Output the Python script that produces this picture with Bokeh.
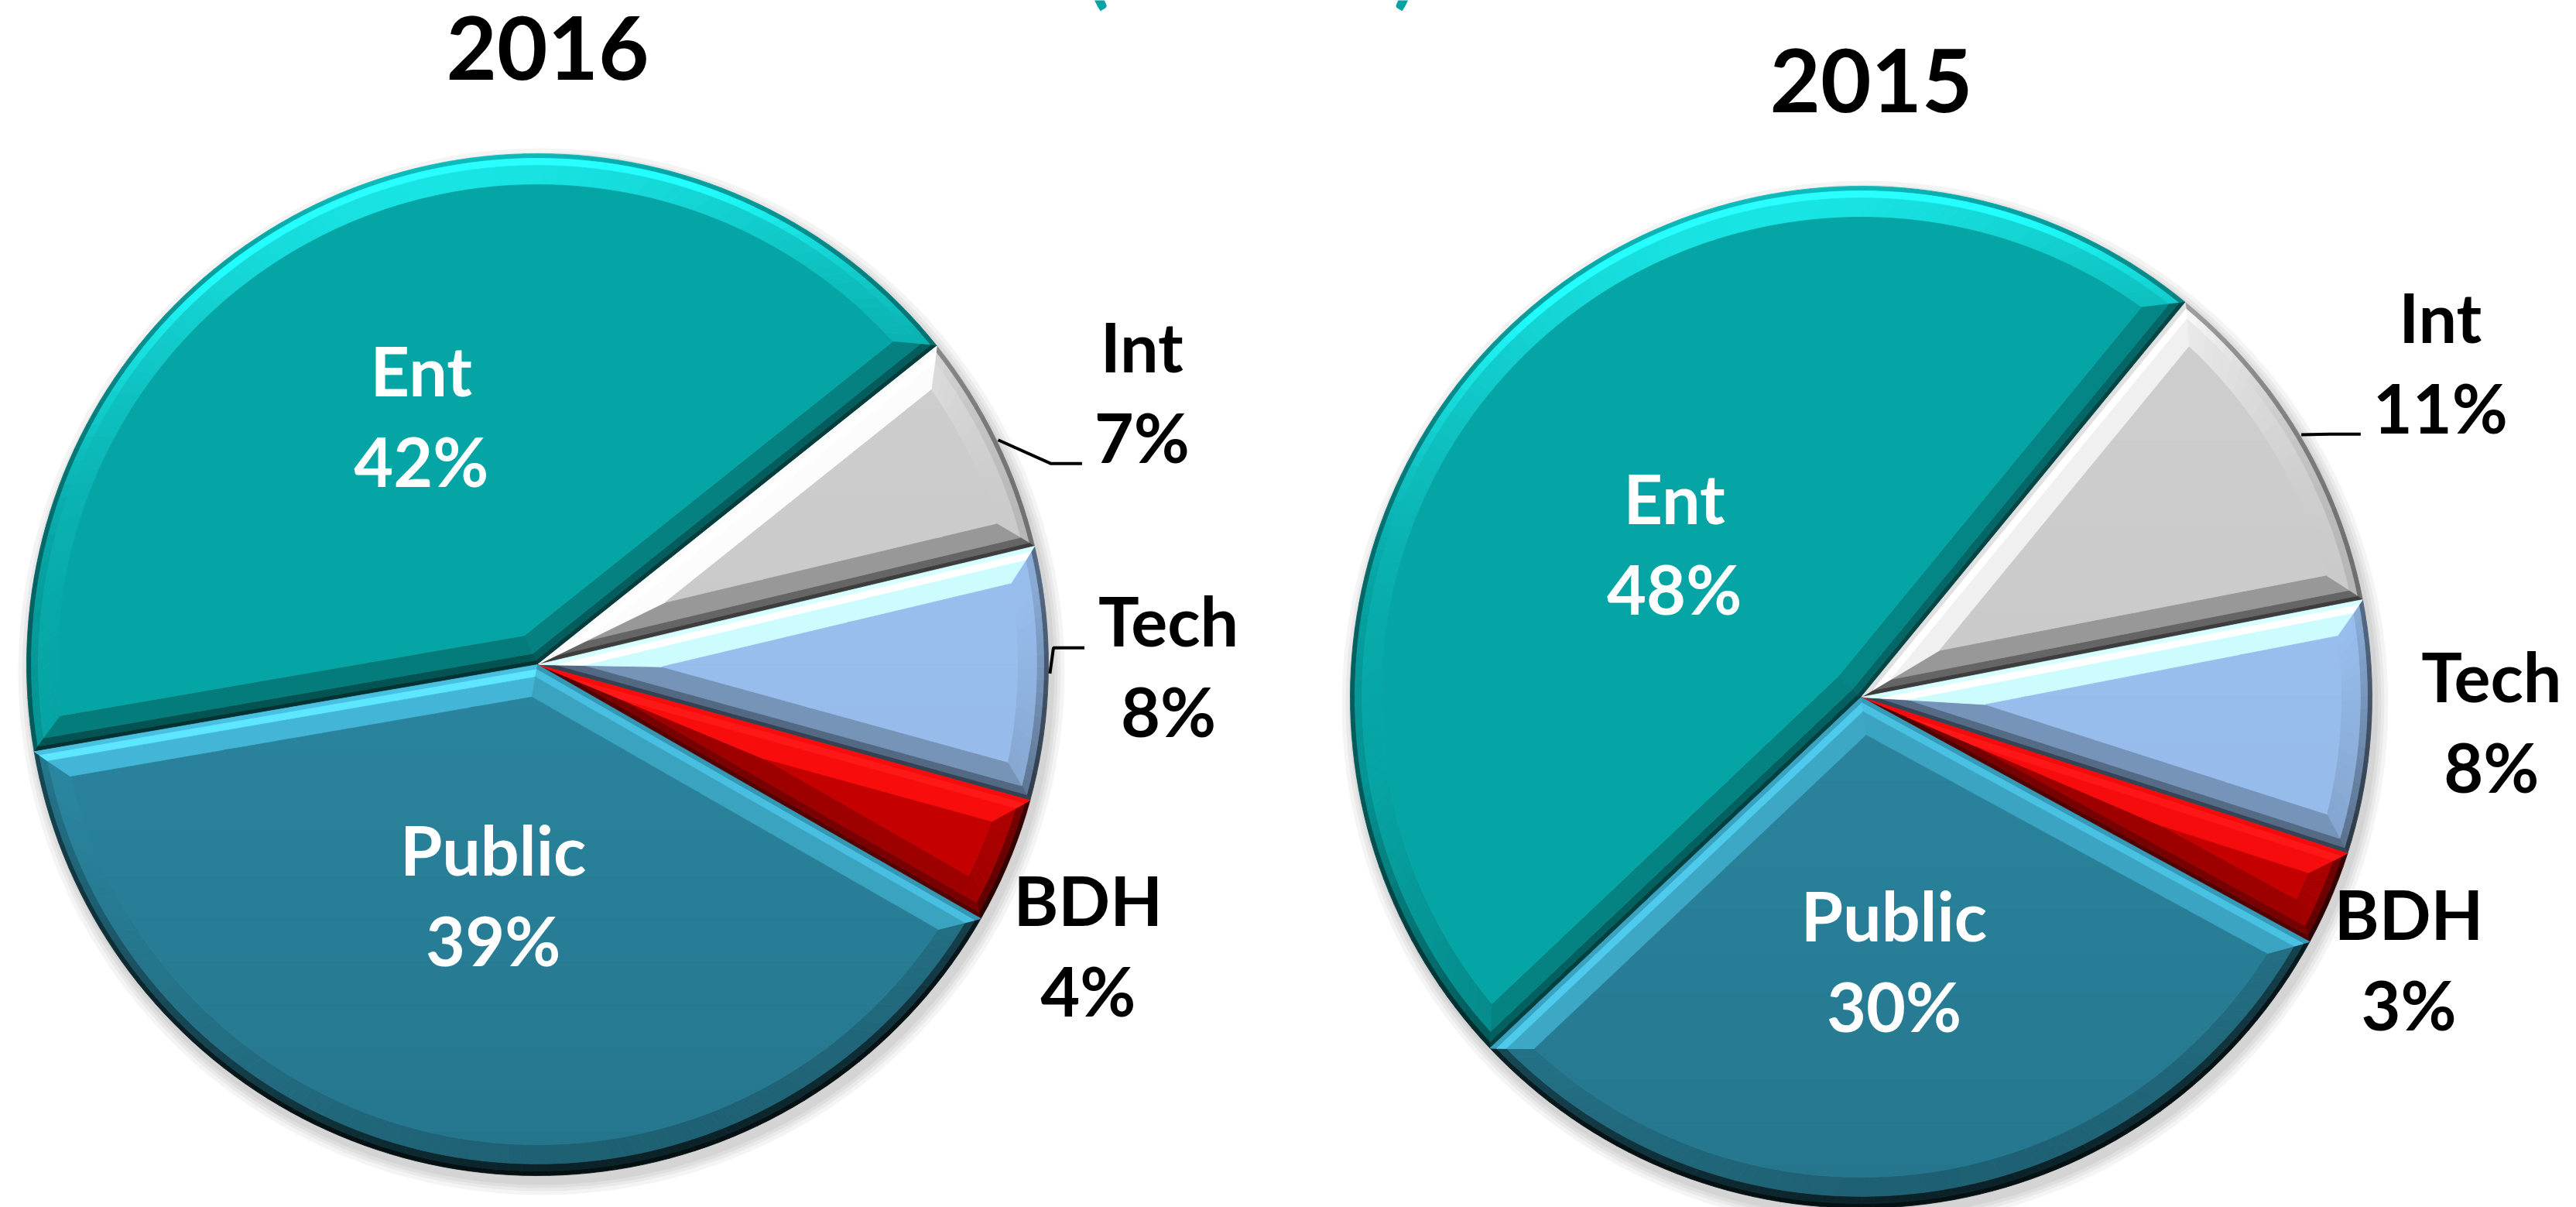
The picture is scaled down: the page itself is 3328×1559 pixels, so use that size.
import math
from bokeh.plotting import figure
from bokeh.models import ColumnDataSource, Range1d
from bokeh.core.properties import value
from bokeh.embed import file_html
from bokeh.resources import INLINE

# ---------------- data ----------------
categories = ["Ent", "Int", "Tech", "BDH", "Public"]
share_2016 = [42, 7, 8, 4, 39]
share_2015 = [48, 11, 8, 3, 30]
years = ["2016", "2015"]
year_shares = [share_2016, share_2015]
subtitle_parts = ["(", ")"]

# ---------------- style / layout ----------------
W, H = 3328, 1559
face_rgb = {"Ent": (6, 165, 165), "Int": (202, 202, 202), "Tech": (152, 190, 238),
            "BDH": (196, 0, 0), "Public": (42, 134, 160)}
face_gradient = {"Public": 0.22, "Tech": 0.08, "Int": 0.05}
pie_centers = [(694, 858), (2404, 900)]
R = 660
first_angle = [189.8, 223.4]          # math degrees where the first slice starts; slices run clockwise
inside_labels = {"Ent", "Public"}
label_geom = {"Ent": (0.5, 0.0), "Public": (0.5, 0.0), "Int": (1.3, -1.5),
              "Tech": (1.235, 1.0), "BDH": (1.2, -3.5)}
label_nudge = {(0, "Ent"): (-15, -17), (0, "Public"): (0, -24), (0, "BDH"): (0, 17),
               (0, "Int"): (0, 6), (0, "Tech"): (0, 5),
               (1, "Ent"): (0, 30), (1, "Public"): (0, 16), (1, "Int"): (0, -10),
               (1, "BDH"): (0, -14)}
leaders = {(0, "Int"): "pct", (0, "Tech"): "name", (1, "Int"): "pct"}
FS = 88
TITLE_FS = 113
LINE_GAP = 58.5
BASE_SHIFT = -0.04        # baseline offset (in em) that puts cap centres on the wanted y
BW = 40
LIGHT = math.radians(100)
FONT = "Lato"
bands_arc = [(0.0, 0.15, 0.55, -0.45), (0.15, 0.38, 0.65, -0.1), (0.38, 1.0, 0.28, 0.0)]
bands_edge = [(0.0, 0.16, 0.5, -0.2), (0.16, 0.5, 0.5, 0.0), (0.5, 1.0, 0.25, 0.0)]
char_w = {"%": 0.86, "I": 0.29, "n": 0.58, "t": 0.38, "T": 0.56, "e": 0.54, "c": 0.47,
          "h": 0.58, "B": 0.64, "D": 0.72, "H": 0.74}


def shade(rgb, v):
    v = max(-0.88, min(0.95, v))
    if v >= 0:
        c = [min(255, x * (1 + v) + 60 * v) for x in rgb]
    else:
        c = [x * (1 + v) for x in rgb]
    return "#%02x%02x%02x" % tuple(int(round(x)) for x in c)


def light(normal_angle):
    s = math.cos(normal_angle - LIGHT)
    return s * s if s > 0 else s


def inset(a0, a1, d, nseg):
    h = (a1 - a0) / 2
    m = (a0 + a1) / 2
    ar = 0.0 if d == 0 else d / math.sin(h)
    apex = (ar * math.cos(m), ar * math.sin(m))
    rr = R - d
    t = math.sqrt(rr * rr - d * d)
    dl = math.atan2(d, t)
    arc = []
    for k in range(nseg + 1):
        a = (a0 + dl) + (a1 - a0 - 2 * dl) * k / nseg
        arc.append((rr * math.cos(a), rr * math.sin(a)))
    return apex, arc


def clip(poly, y_lo, y_hi):
    def cut(pts, inside, ycut):
        out = []
        n = len(pts)
        for k in range(n):
            a, b = pts[k], pts[(k + 1) % n]
            ia, ib = inside(a), inside(b)
            if ia:
                out.append(a)
            if ia != ib:
                t = (ycut - a[1]) / (b[1] - a[1])
                out.append((a[0] + t * (b[0] - a[0]), ycut))
        return out
    pts = cut(poly, lambda q: q[1] >= y_lo, y_lo)
    if len(pts) < 3:
        return []
    pts = cut(pts, lambda q: q[1] <= y_hi, y_hi)
    return pts if len(pts) >= 3 else []


xs, ys, cols = [], [], []


def add(poly, cx, cy, col):
    xs.append([cx + p[0] for p in poly])
    ys.append([cy - p[1] for p in poly])
    cols.append(col)


def add_img(poly, col):
    xs.append([p[0] for p in poly])
    ys.append([p[1] for p in poly])
    cols.append(col)


label_rows = {"x": [], "y": [], "text": [], "color": []}
leader_xs, leader_ys = [], []


def est_width(s):
    return sum(char_w.get(ch, 0.58) for ch in s) * FS


for i, shares in enumerate(year_shares):
    cx, cy = pie_centers[i]
    a_start = math.radians(first_angle[i])
    for cat, sh in zip(categories, shares):
        span = math.radians(sh * 3.6)
        a0, a1 = a_start - span, a_start
        a_start = a0
        rgb = face_rgb[cat]
        nseg = max(4, int(math.degrees(span) / 1.5))
        for (f0, f1, ka, kc), (_, _, ea, ec) in zip(bands_arc, bands_edge):
            apx0, arc0 = inset(a0, a1, f0 * BW, nseg)
            apx1, arc1 = inset(a0, a1, f1 * BW, nseg)
            for k in range(nseg):
                na = (a0 + (a1 - a0) * (k + 0.5) / nseg)
                add([arc0[k], arc0[k + 1], arc1[k + 1], arc1[k]], cx, cy,
                    shade(rgb, ka * light(na) + kc))
            add([apx0, arc0[0], arc1[0], apx1], cx, cy,
                shade(rgb, ea * light(a0 - math.pi / 2) + ec))
            add([apx0, apx1, arc1[-1], arc0[-1]], cx, cy,
                shade(rgb, ea * light(a1 + math.pi / 2) + ec))
        apx, arc = inset(a0, a1, BW, nseg)
        face = [(cx + q[0], cy - q[1]) for q in [apx] + arc]
        g = face_gradient.get(cat, 0.0)
        if g > 0:
            ytop = cy - R
            nb = 24
            for b in range(nb):
                y_lo = ytop + 2 * R * b / nb
                y_hi = ytop + 2 * R * (b + 1) / nb
                part = clip(face, y_lo - 0.6, y_hi + 0.6)
                if part:
                    frac = (b + 0.5) / nb
                    add_img(part, shade(rgb, g * (0.45 - frac)))
        else:
            add_img(face, shade(rgb, 0))

        # labels
        mid = (a0 + a1) / 2
        fac, nudge = label_geom[cat]
        ang = mid + math.radians(nudge)
        ndx, ndy = label_nudge.get((i, cat), (0, 0))
        lx = cx + fac * R * math.cos(ang) + ndx
        ly = cy - fac * R * math.sin(ang) + ndy
        color = "white" if cat in inside_labels else "black"
        name_y = ly - LINE_GAP
        pct_y = ly + LINE_GAP
        pct = "%d%%" % sh
        for txt, yc in ((cat, name_y), (pct, pct_y)):
            label_rows["x"].append(lx)
            label_rows["y"].append(yc + BASE_SHIFT * FS)
            label_rows["text"].append(txt)
            label_rows["color"].append(color)
        if (i, cat) in leaders:
            which = leaders[(i, cat)]
            txt = pct if which == "pct" else cat
            yb = (pct_y if which == "pct" else name_y) + 0.36 * FS
            ex = lx - est_width(txt) / 2 - 14
            bx = ex - 40
            sx = cx + (R + 2) * math.cos(mid)
            sy = cy - (R + 2) * math.sin(mid)
            leader_xs.append([sx, bx, ex])
            leader_ys.append([sy, yb, yb])

p = figure(width=W, height=H, x_range=Range1d(0, W), y_range=Range1d(H, 0),
           output_backend="svg", toolbar_location=None, min_border=0,
           x_axis_type=None, y_axis_type=None)
p.xgrid.visible = False
p.ygrid.visible = False
p.outline_line_color = None
p.background_fill_color = "white"
p.border_fill_color = "white"

# soft shadow
for (cx, cy) in pie_centers:
    for extra in [3, 7, 11, 16]:
        p.circle(x=[cx + 5], y=[cy + 9], radius=R + extra, fill_color="black",
                 fill_alpha=0.045, line_color=None)

src = ColumnDataSource(dict(xs=xs, ys=ys, color=cols))
p.patches(xs="xs", ys="ys", fill_color="color", line_color="color", line_width=0.8, source=src)

p.multi_line(xs=leader_xs, ys=leader_ys, line_color="black", line_width=4)

lsrc = ColumnDataSource(label_rows)
p.text(x="x", y="y", text="text", text_color="color", source=lsrc,
       text_font=value(FONT), text_font_style="bold", text_font_size=value("%dpx" % FS),
       text_align="center", text_baseline="alphabetic")

# titles
tx = [c[0] + 13 for c in pie_centers]
ty = [c[1] - R - 132 + BASE_SHIFT * TITLE_FS for c in pie_centers]
p.text(x=tx, y=ty, text=years, text_color="black", text_font=value(FONT),
       text_font_style="bold", text_font_size=value("%dpx" % TITLE_FS),
       text_align="center", text_baseline="alphabetic")

# cut-off subtitle at the very top
sub_cx, sub_half = 1616, 199
p.text(x=[sub_cx - sub_half, sub_cx + sub_half], y=[-47, -47], text=subtitle_parts,
       text_color="#05a3a3", text_font=value(FONT), text_font_style="bold",
       text_font_size=value("110px"), text_align="center", text_baseline="alphabetic")

open("out.html", "w").write(file_html(p, INLINE))
